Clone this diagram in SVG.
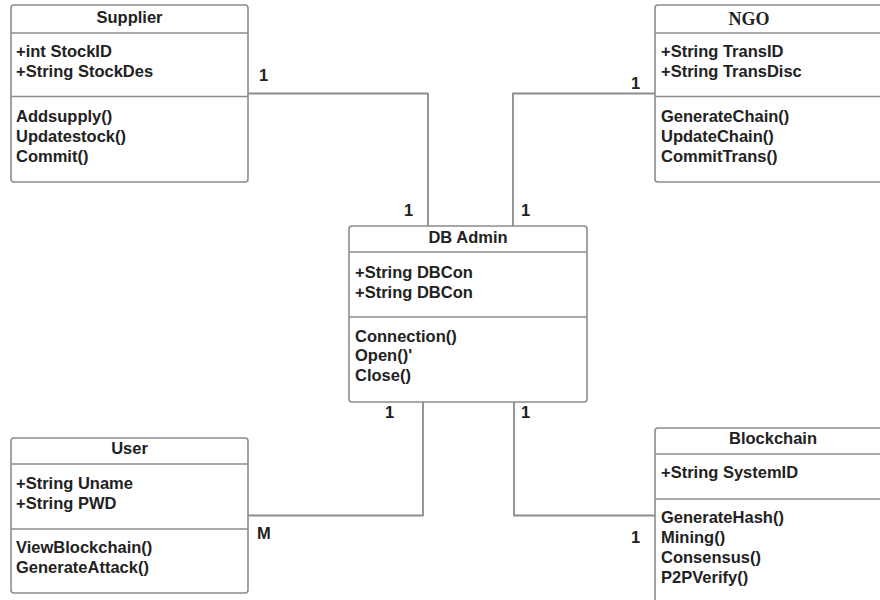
<svg xmlns="http://www.w3.org/2000/svg" width="880" height="600" viewBox="0 0 880 600">
  <style>
    .box { fill: #ffffff; stroke: #8c8c8c; stroke-width: 1.6; }
    .div { stroke: #8c8c8c; stroke-width: 1.6; }
    .link { fill: none; stroke: #8c8c8c; stroke-width: 1.8; stroke-linejoin: round; }
    text { font-family: "Liberation Sans", Arial, sans-serif; font-size: 16.5px; font-weight: bold; fill: #222222; }
    .title { text-anchor: middle; }
    .serif { font-family: "Liberation Serif", "Times New Roman", serif; font-size: 18px; }
  </style>
  <rect width="880" height="600" fill="#ffffff"/>

  <!-- associations -->
  <g id="connectors">
    <path class="link" d="M248 93.5 H428 V226"/>
    <path class="link" d="M655 93.5 H513 V226"/>
    <path class="link" d="M248 515.5 H423 V402"/>
    <path class="link" d="M514 402 V515.5 H655"/>
    <text x="259" y="81">1</text>
    <text x="404" y="216">1</text>
    <text x="631" y="89">1</text>
    <text x="521" y="216">1</text>
    <text x="385" y="418">1</text>
    <text x="521" y="418">1</text>
    <text x="257" y="539">M</text>
    <text x="631" y="543">1</text>
  </g>

  <g id="supplier">
    <rect class="box" x="11" y="5" width="237" height="177" rx="3"/>
    <line class="div" x1="11" y1="33" x2="248" y2="33"/>
    <line class="div" x1="11" y1="96.5" x2="248" y2="96.5"/>
    <text class="title" x="129.5" y="23">Supplier</text>
    <text x="16" y="57">+int StockID</text>
    <text x="16" y="77">+String StockDes</text>
    <text x="16" y="122">Addsupply()</text>
    <text x="16" y="142">Updatestock()</text>
    <text x="16" y="162">Commit()</text>
  </g>

  <g id="ngo">
    <rect class="box" x="655" y="5" width="240" height="177" rx="3"/>
    <line class="div" x1="655" y1="33" x2="895" y2="33"/>
    <line class="div" x1="655" y1="96.5" x2="895" y2="96.5"/>
    <text class="title serif" x="749" y="25">NGO</text>
    <text x="661" y="57">+String TransID</text>
    <text x="661" y="77">+String TransDisc</text>
    <text x="661" y="122">GenerateChain()</text>
    <text x="661" y="142">UpdateChain()</text>
    <text x="661" y="162">CommitTrans()</text>
  </g>

  <g id="dbadmin">
    <rect class="box" x="349" y="226" width="238" height="176" rx="3"/>
    <line class="div" x1="349" y1="252" x2="587" y2="252"/>
    <line class="div" x1="349" y1="317" x2="587" y2="317"/>
    <text class="title" x="468" y="243">DB Admin</text>
    <text x="355" y="278">+String DBCon</text>
    <text x="355" y="298">+String DBCon</text>
    <text x="355" y="342">Connection()</text>
    <text x="355" y="361">Open()'</text>
    <text x="355" y="381">Close()</text>
  </g>

  <g id="user">
    <rect class="box" x="11" y="438" width="237" height="155" rx="3"/>
    <line class="div" x1="11" y1="464" x2="248" y2="464"/>
    <line class="div" x1="11" y1="529" x2="248" y2="529"/>
    <text class="title" x="129.5" y="454">User</text>
    <text x="16" y="489">+String Uname</text>
    <text x="16" y="509">+String PWD</text>
    <text x="16" y="553">ViewBlockchain()</text>
    <text x="16" y="573">GenerateAttack()</text>
  </g>

  <g id="blockchain">
    <rect class="box" x="655" y="428" width="240" height="190" rx="3"/>
    <line class="div" x1="655" y1="454" x2="895" y2="454"/>
    <line class="div" x1="655" y1="499" x2="895" y2="499"/>
    <text class="title" x="773" y="444">Blockchain</text>
    <text x="661" y="478">+String SystemID</text>
    <text x="661" y="523">GenerateHash()</text>
    <text x="661" y="543">Mining()</text>
    <text x="661" y="563">Consensus()</text>
    <text x="661" y="583">P2PVerify()</text>
  </g>
</svg>
